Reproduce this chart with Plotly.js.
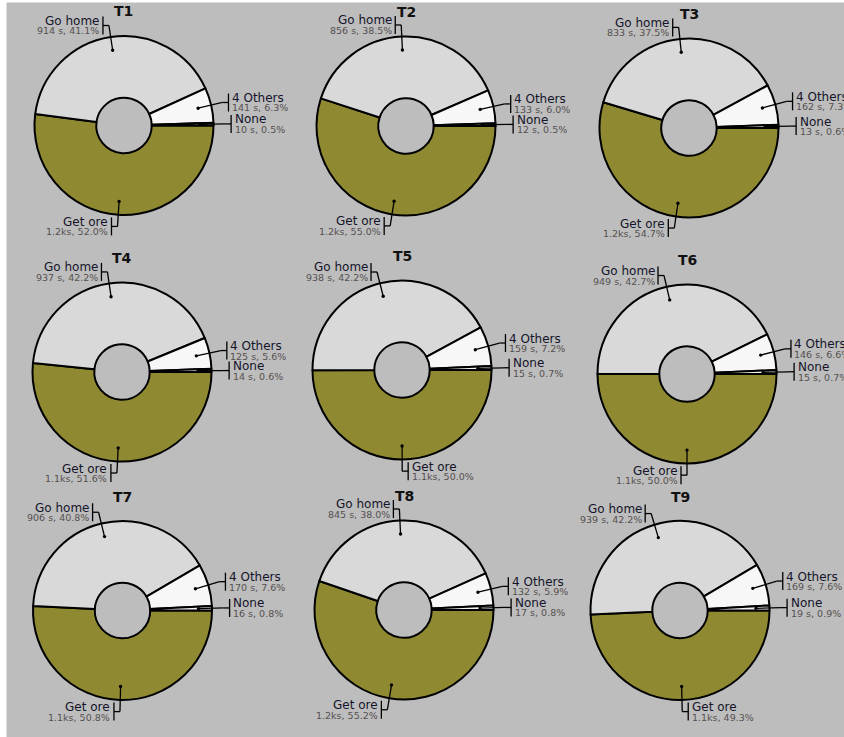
<!DOCTYPE html>
<html><head><meta charset="utf-8">
<script src="https://cdn.plot.ly/plotly-3.0.1.min.js"></script>
<style>html,body{margin:0;padding:0;background:#fff}</style>
</head><body><div id="chart" style="width:844px;height:737px"></div>
<script>
// ---- data ----
const titles = ['T1','T2','T3','T4','T5','T6','T7','T8','T9'];
const categories = ['None','4 Others','Go home','Get ore'];
const pctNone   = [0.5, 0.5, 0.6, 0.6, 0.7, 0.7, 0.8, 0.8, 0.9];
const pctOthers = [6.3, 6.0, 7.3, 5.6, 7.2, 6.6, 7.6, 5.9, 7.6];
const pctGoHome = [41.1, 38.5, 37.5, 42.2, 42.2, 42.7, 40.8, 38.0, 42.2];
const pctGetOre = [52.0, 55.0, 54.7, 51.6, 50.0, 50.0, 50.8, 55.2, 49.3];
const durNone   = ['10 s','12 s','13 s','14 s','15 s','15 s','16 s','17 s','19 s'];
const durOthers = ['141 s','133 s','162 s','125 s','159 s','146 s','170 s','132 s','169 s'];
const durGoHome = ['914 s','856 s','833 s','937 s','938 s','949 s','906 s','845 s','939 s'];
const durGetOre = ['1.2ks','1.2ks','1.2ks','1.1ks','1.1ks','1.1ks','1.1ks','1.2ks','1.1ks'];

// ---- layout / style ----
const W = 844, H = 737, R = 89.5;
const centers = [[124,125.5],[406,126],[689,128],[122,372],[402,370],[687,374],[122.5,610.5],[404,610],[680,610.5]];
const sliceColors = {'None':'#f2f2f2','4 Others':'#f7f7f7','Go home':'#d9d9d9','Get ore':'#8f8a32'};
const FONT = 'DejaVu Sans';
const px = x => x / W, py = y => 1 - y / H;

const traces = [], shapes = [], annotations = [];

titles.forEach((t, k) => {
  const [cx, cy] = centers[k];
  const vals = {'None':pctNone[k],'4 Others':pctOthers[k],'Go home':pctGoHome[k],'Get ore':pctGetOre[k]};
  const durs = {'None':durNone[k],'4 Others':durOthers[k],'Go home':durGoHome[k],'Get ore':durGetOre[k]};
  // clockwise order from 3 o'clock
  const order = ['Get ore','Go home','4 Others','None'];
  traces.push({
    type:'pie', sort:false, direction:'clockwise', rotation:90, hole:0.31,
    labels: order, values: order.map(c => vals[c]),
    marker:{colors: order.map(c => sliceColors[c]), line:{color:'#000', width:2}},
    textinfo:'none', hoverinfo:'skip', showlegend:false,
    domain:{x:[px(cx-R), px(cx+R)], y:[py(cy+R), py(cy-R)]}
  });
  annotations.push({xref:'paper', yref:'paper', x:px(cx), y:py(cy-114), text:'<b>'+t+'</b>',
    showarrow:false, xanchor:'center', yanchor:'middle', font:{family:FONT, size:14, color:'#111'}});

  const total = categories.reduce((s,c) => s + vals[c], 0);
  let cum = 0;
  const labs = [];
  categories.forEach(c => {
    const mid = (cum + vals[c]/2) / total * 2 * Math.PI;
    cum += vals[c];
    const dx = Math.cos(mid), dy = -Math.sin(mid);
    labs.push({c, dot:[cx + 0.85*R*dx, cy + 0.85*R*dy], ex: cx + 1.13*R*dx, ey: cy + 1.13*R*dy,
               side: dx > 0.001 ? 1 : -1});
  });
  [1,-1].forEach(s => {
    const g = labs.filter(l => l.side === s).sort((a,b) => a.ey - b.ey);
    for (let i = 1; i < g.length; i++) if (g[i].ey - g[i-1].ey < 20) g[i].ey = g[i-1].ey + 20;
  });
  labs.forEach(l => {
    const bx = l.ex + 6*l.side;
    const ln = {type:'line', xref:'paper', yref:'paper', layer:'above', line:{color:'#000', width:1.3}};
    shapes.push(Object.assign({}, ln, {x0:px(l.dot[0]), y0:py(l.dot[1]), x1:px(l.ex), y1:py(l.ey)}));
    shapes.push(Object.assign({}, ln, {x0:px(l.ex), y0:py(l.ey), x1:px(bx), y1:py(l.ey)}));
    shapes.push(Object.assign({}, ln, {x0:px(bx), y0:py(l.ey-9), x1:px(bx), y1:py(l.ey+9)}));
    shapes.push({type:'circle', xref:'paper', yref:'paper', layer:'above', fillcolor:'#000', line:{width:0},
      x0:px(l.dot[0]-1.7), x1:px(l.dot[0]+1.7), y0:py(l.dot[1]+1.7), y1:py(l.dot[1]-1.7)});
    const tx = bx + 2.5*l.side, anc = l.side > 0 ? 'left' : 'right';
    annotations.push({xref:'paper', yref:'paper', x:px(tx), y:py(l.ey-4.5), text:l.c, showarrow:false,
      xanchor:anc, yanchor:'middle', borderpad:0, font:{family:FONT, size:12, color:'#14142a'}});
    annotations.push({xref:'paper', yref:'paper', x:px(tx), y:py(l.ey+5.5),
      text: durs[l.c] + ', ' + vals[l.c].toFixed(1) + '%', showarrow:false,
      xanchor:anc, yanchor:'middle', borderpad:0, font:{family:FONT, size:9.5, color:'#555050'}});
  });
});

// white edge strips
shapes.push({type:'rect', xref:'paper', yref:'paper', layer:'above', x0:0, x1:px(6.5), y0:0, y1:1, fillcolor:'#fff', line:{width:0}});
shapes.push({type:'rect', xref:'paper', yref:'paper', layer:'above', x0:0, x1:1, y0:py(2.5), y1:1, fillcolor:'#fff', line:{width:0}});

Plotly.newPlot('chart', traces, {
  width:W, height:H, margin:{l:0, r:0, t:0, b:0},
  paper_bgcolor:'#bdbdbd', plot_bgcolor:'#bdbdbd', showlegend:false,
  shapes, annotations
}, {displayModeBar:false, staticPlot:true});
</script></body></html>
